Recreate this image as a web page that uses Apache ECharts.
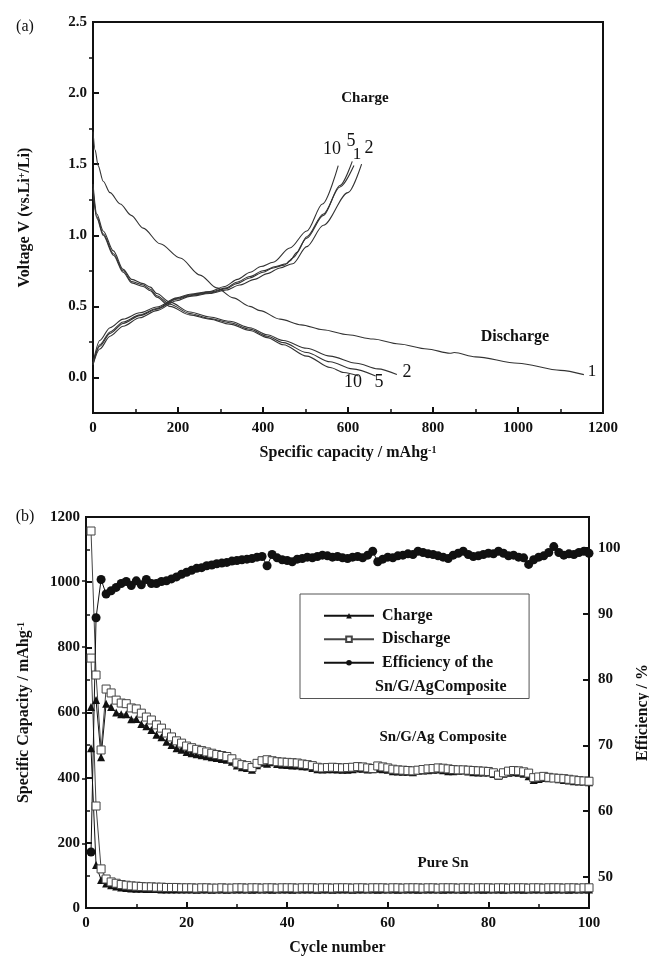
<!DOCTYPE html>
<html>
<head>
<meta charset="utf-8">
<script src="https://cdn.jsdelivr.net/npm/echarts@6/dist/echarts.min.js"></script>
<style>
  html, body { margin: 0; padding: 0; background: #fff; }
  #chart { width: 649px; height: 960px; }
</style>
</head>
<body>
<div id="chart"></div>
<script>
// ---- panel (a): voltage profiles, [capacity mAh/g, voltage V] ----
const dis1 = [[0,1.73],[5,1.6],[12,1.49],[24,1.38],[40,1.3],[64,1.22],[90,1.14],[118,1.05],[158,0.94],[205,0.84],[252,0.72],[291,0.63],[330,0.56],[369,0.5],[393,0.47],[440,0.41],[490,0.37],[541,0.335],[600,0.3],[659,0.27],[720,0.235],[786,0.2],[840,0.17],[850,0.175],[900,0.145],[1000,0.1],[1100,0.05],[1155,0.02]];
const dis2 = [[0,1.36],[9,1.15],[24,1.03],[48,0.89],[71,0.76],[91,0.69],[118,0.66],[135,0.635],[150,0.59],[181,0.53],[228,0.46],[275,0.425],[322,0.395],[369,0.35],[410,0.3],[448,0.26],[503,0.205],[558,0.15],[620,0.1],[670,0.06],[715,0.02]];
const dis5 = [[0,1.33],[9,1.13],[24,1.01],[48,0.87],[71,0.75],[91,0.675],[118,0.65],[135,0.62],[150,0.575],[181,0.515],[228,0.45],[275,0.415],[322,0.385],[369,0.34],[410,0.29],[448,0.245],[503,0.175],[558,0.11],[610,0.06],[665,0.01]];
const dis10 = [[0,1.31],[9,1.12],[24,1.0],[48,0.86],[71,0.74],[91,0.665],[118,0.64],[135,0.61],[150,0.565],[181,0.5],[228,0.44],[275,0.41],[322,0.375],[369,0.33],[410,0.28],[448,0.23],[503,0.15],[558,0.07],[590,0.035],[625,0.01]];
const chg1 = [[0,0.09],[16,0.22],[40,0.31],[71,0.38],[110,0.435],[150,0.48],[197,0.55],[228,0.575],[275,0.595],[314,0.625],[338,0.66],[369,0.7],[400,0.74],[424,0.77],[450,0.79],[463,0.82],[480,0.88],[503,0.99],[542,1.15],[581,1.34],[614,1.49]];
const chg2 = [[0,0.09],[16,0.2],[40,0.29],[71,0.36],[110,0.42],[150,0.47],[197,0.54],[228,0.57],[275,0.59],[314,0.615],[345,0.65],[380,0.69],[410,0.73],[440,0.77],[470,0.8],[503,0.92],[542,1.07],[600,1.3],[632,1.5]];
const chg5 = [[0,0.1],[16,0.23],[40,0.32],[71,0.39],[110,0.44],[150,0.485],[197,0.555],[228,0.58],[275,0.6],[314,0.63],[338,0.67],[369,0.71],[400,0.75],[430,0.78],[455,0.8],[470,0.84],[503,0.98],[542,1.14],[581,1.35],[610,1.52]];
const chg10 = [[0,0.1],[16,0.26],[40,0.35],[71,0.41],[110,0.455],[150,0.495],[197,0.56],[228,0.585],[275,0.605],[310,0.64],[340,0.69],[370,0.74],[395,0.78],[424,0.81],[463,0.91],[503,1.03],[540,1.22],[577,1.49]];

// ---- panel (b): cycling, cycle 1..100 ----
const cycles = Array.from({ length: 100 }, (_, i) => i + 1);
const compDis = [1157,715,485,672,660,638,629,627,614,611, 598,586,577,562,552,537,525,513,506,497,
  492,487,483,479,475,471,468,465,458,445, 440,437,431,444,452,455,452,449,448,447,
  446,445,442,440,437,432,430,431,432,431, 430,431,432,434,433,430,428,436,433,430,
  426,424,423,422,421,423,425,427,428,430, 429,427,425,424,424,423,422,421,420,419,
  415,408,415,420,422,421,418,414,400,402, 404,401,399,398,397,395,393,391,390,389];
const compChg = [617,638,463,627,617,600,595,595,579,580, 565,558,546,532,524,510,500,490,486,479,
  475,472,469,466,463,460,457,455,449,437, 432,430,424,438,446,443,447,442,440,439,
  437,437,435,434,430,426,425,426,426,425, 424,424,426,428,427,425,426,427,426,424,
  420,419,418,418,417,421,422,423,424,425, 423,420,420,421,422,419,417,416,416,416,
  411,406,412,415,417,415,412,404,393,396, 399,398,400,395,393,391,389,388,388,386];
const snDis = [767,313,120,89,80,76,72,70,68,67, 66,65,65,64,64,63,63,63,62,62,
  62,61,62,62,61,61,62,61,61,62, 62,61,62,62,61,62,62,61,62,62,
  62,61,62,62,62,61,62,62,61,62, 62,62,61,62,62,61,62,62,62,61,
  62,62,61,62,62,62,61,62,62,61, 62,62,62,61,62,62,61,62,62,62,
  61,62,62,61,62,62,62,61,62,62, 61,62,62,62,61,62,62,61,62,62];
const snChg = [490,132,86,75,70,66,63,61,60,59, 59,58,58,58,57,57,57,57,57,57,
  57,56,57,57,56,57,57,56,57,57, 57,57,56,57,57,57,56,57,57,57,
  56,57,57,57,57,56,57,57,56,57, 57,57,56,57,57,57,57,56,57,57,
  57,56,57,57,57,56,57,57,57,57, 56,57,57,57,56,57,57,57,56,57,
  57,57,56,57,57,57,56,57,57,57, 57,56,57,57,57,56,57,57,57,57];
const efficiency = [53.8,89.4,95.2,93.0,93.5,94.0,94.6,94.9,94.3,95.0, 94.4,95.2,94.6,94.6,94.9,95.0,95.3,95.6,96.0,96.3,
  96.6,96.9,97.0,97.3,97.4,97.6,97.7,97.8,98.0,98.1, 98.2,98.3,98.4,98.6,98.7,97.3,99.0,98.5,98.2,98.1,
  97.9,98.3,98.4,98.6,98.5,98.7,98.9,98.8,98.6,98.7, 98.5,98.4,98.6,98.7,98.5,98.9,99.5,97.9,98.3,98.6,
  98.5,98.8,98.9,99.1,99.0,99.5,99.3,99.1,99.0,98.8, 98.6,98.4,98.9,99.2,99.5,99.0,98.7,98.8,99.0,99.2,
  99.1,99.5,99.2,98.8,98.9,98.6,98.5,97.5,98.2,98.6, 98.8,99.3,100.2,99.3,98.9,99.1,99.0,99.3,99.5,99.2];

const voltTicks = [0, 0.5, 1, 1.5, 2, 2.5];
const voltMinor = [0.25, 0.75, 1.25, 1.75, 2.25];
const effTicks = [50, 60, 70, 80, 90, 100];
const effMinor = [55, 65, 75, 85, 95];

const SERIF = '"Liberation Serif", "DejaVu Serif", serif';
const INK = '#111';

const pair = (ys) => cycles.map((c, i) => [c, ys[i]]);

const chart = echarts.init(document.getElementById('chart'));

const labelStyle = { fontFamily: SERIF, fontWeight: 'bold', fontSize: 15, color: INK, formatter: (v) => String(v) };
const nameStyle = {
  fontFamily: SERIF, fontWeight: 'bold', fontSize: 16, color: INK,
  rich: {
    b: { fontFamily: SERIF, fontWeight: 'bold', fontSize: 16, color: INK },
    s: { fontFamily: SERIF, fontWeight: 'bold', fontSize: 10, color: INK, verticalAlign: 'top' },
  },
};
const lineAxis = { onZero: false, lineStyle: { color: INK, width: 2 } };

function xAxisOf(grid, min, max, step, name, gap) {
  return {
    type: 'value', gridIndex: grid, min: min, max: max, interval: step,
    axisLine: lineAxis,
    axisTick: { inside: true, length: 6, lineStyle: { color: INK, width: 2 } },
    minorTick: { show: true, splitNumber: 2, length: 4, lineStyle: { color: INK, width: 1.5 } },
    splitLine: { show: false },
    axisLabel: Object.assign({ margin: 8 }, labelStyle),
    name: name, nameLocation: 'middle', nameGap: gap, nameTextStyle: nameStyle,
  };
}

function curve(data) {
  return {
    type: 'line', xAxisIndex: 0, yAxisIndex: 0, data: data,
    symbol: 'none', smooth: 0.3, smoothMonotone: 'x',
    lineStyle: { color: '#333', width: 1.1 },
    silent: true,
  };
}

function capSeries(name, ys, sym) {
  const open = sym === 'rect';
  return {
    name: name, type: 'line', xAxisIndex: 1, yAxisIndex: 2, data: pair(ys),
    symbol: sym, symbolSize: 8, showAllSymbol: true,
    itemStyle: open ? { color: '#fff', borderColor: '#444', borderWidth: 1 } : { color: INK },
    lineStyle: { color: open ? '#444' : INK, width: 1 },
  };
}

function txt(x, y, text, font, align) {
  return {
    type: 'text', x: x, y: y, z: 100, silent: true,
    style: { text: text, font: font, fill: INK, align: align || 'center', verticalAlign: 'middle' },
  };
}

const option = {
  animation: false,
  backgroundColor: '#fff',
  grid: [
    { left: 93, top: 22, width: 510, height: 391, show: true, borderColor: INK, borderWidth: 2, outerBoundsMode: 'none', containLabel: false },
    { left: 86, top: 517, width: 503, height: 391, show: true, borderColor: INK, borderWidth: 2, outerBoundsMode: 'none', containLabel: false },
  ],
  xAxis: [
    xAxisOf(0, 0, 1200, 200, '{b|Specific capacity / mAhg}{s|-1}', 32),
    xAxisOf(1, 0, 100, 20, 'Cycle number', 32),
  ],
  yAxis: [
    {
      type: 'value', gridIndex: 0, min: -0.25, max: 2.5, interval: 0.25,
      axisLine: lineAxis,
      axisTick: { inside: true, length: 6, customValues: voltTicks, lineStyle: { color: INK, width: 2 } },
      axisLabel: Object.assign({}, labelStyle, { margin: 6, customValues: voltTicks, formatter: (v) => v.toFixed(1) }),
      splitLine: { show: false },
      name: '{b|Voltage V (vs.Li}{s|+}{b|/Li)}', nameLocation: 'middle', nameGap: 60, nameTextStyle: nameStyle,
    },
    {
      type: 'value', gridIndex: 0, min: -0.25, max: 2.5, interval: 0.25,
      axisLine: { show: false },
      axisTick: { inside: true, length: 4, customValues: voltMinor, lineStyle: { color: INK, width: 1.5 } },
      axisLabel: { show: false }, splitLine: { show: false },
    },
    {
      type: 'value', gridIndex: 1, min: 0, max: 1200, interval: 200,
      axisLine: lineAxis,
      axisTick: { inside: true, length: 6, lineStyle: { color: INK, width: 2 } },
      minorTick: { show: true, splitNumber: 2, length: 4, lineStyle: { color: INK, width: 1.5 } },
      axisLabel: Object.assign({ margin: 6 }, labelStyle),
      splitLine: { show: false },
      name: '{b|Specific Capacity / mAhg}{s|-1}', nameLocation: 'middle', nameGap: 54, nameTextStyle: nameStyle,
    },
    {
      type: 'value', gridIndex: 1, position: 'right', min: 45.3, max: 104.7,
      axisLine: lineAxis,
      axisTick: { inside: true, length: 6, customValues: effTicks, lineStyle: { color: INK, width: 2 } },
      axisLabel: Object.assign({ margin: 9, customValues: effTicks }, labelStyle),
      splitLine: { show: false },
      name: 'Efficiency / %', nameLocation: 'middle', nameRotate: 90, nameGap: 46, nameTextStyle: nameStyle,
    },
    {
      type: 'value', gridIndex: 1, position: 'right', min: 45.3, max: 104.7,
      axisLine: { show: false },
      axisTick: { inside: true, length: 4, customValues: effMinor, lineStyle: { color: INK, width: 1.5 } },
      axisLabel: { show: false }, splitLine: { show: false },
    },
  ],
  legend: {
    data: ['Charge', 'Discharge', 'Efficiency of the Sn/G/AgComposite'],
    formatter: (n) => (n.indexOf('Efficiency') === 0 ? 'Efficiency of the' : n),
    orient: 'vertical', left: 300, top: 594,
    padding: [10, 36, 24, 23], itemGap: 0, itemWidth: 50, itemHeight: 7,
    backgroundColor: '#fff', borderColor: '#555', borderWidth: 1,
    selectedMode: false,
    textStyle: { fontFamily: SERIF, fontWeight: 'bold', fontSize: 16, lineHeight: 23.5, color: INK, padding: [0, 0, 0, 3] },
  },
  graphic: [
    txt(25, 27, '(a)', '16px ' + SERIF),
    txt(25, 517, '(b)', '16px ' + SERIF),
    txt(365, 98, 'Charge', 'bold 15px ' + SERIF),
    txt(515, 337, 'Discharge', 'bold 16px ' + SERIF),
    txt(332, 149, '10', '18px ' + SERIF),
    txt(351, 141, '5', '18px ' + SERIF),
    txt(357, 155, '1', '17px ' + SERIF),
    txt(369, 148, '2', '18px ' + SERIF),
    txt(353, 382, '10', '18px ' + SERIF),
    txt(379, 382, '5', '18px ' + SERIF),
    txt(407, 372, '2', '18px ' + SERIF),
    txt(592, 372, '1', '17px ' + SERIF),
    txt(443, 737, 'Sn/G/Ag Composite', 'bold 15px ' + SERIF),
    txt(443, 863, 'Pure Sn', 'bold 15px ' + SERIF),
    txt(375, 687, 'Sn/G/AgComposite', 'bold 16px ' + SERIF, 'left'),
  ],
  series: [
    curve(dis1), curve(dis2), curve(dis5), curve(dis10),
    curve(chg1), curve(chg2), curve(chg5), curve(chg10),
    capSeries('Charge', compChg, 'triangle'),
    capSeries('Charge', snChg, 'triangle'),
    capSeries('Discharge', compDis, 'rect'),
    capSeries('Discharge', snDis, 'rect'),
    {
      name: 'Efficiency of the Sn/G/AgComposite', type: 'line', xAxisIndex: 1, yAxisIndex: 3,
      data: pair(efficiency), symbol: 'circle', symbolSize: 9, showAllSymbol: true,
      itemStyle: { color: INK }, lineStyle: { color: INK, width: 1 },
    },
  ],
};

chart.setOption(option);
</script>
</body>
</html>
